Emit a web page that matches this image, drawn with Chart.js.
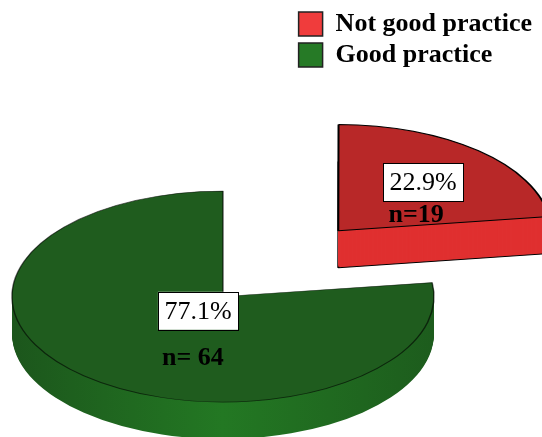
<!DOCTYPE html>
<html><head><meta charset="utf-8">
<script src="https://cdn.jsdelivr.net/npm/chart.js@4"></script>
<style>html,body{margin:0;padding:0;background:#fff;overflow:hidden}canvas{display:block}</style>
</head><body>
<canvas id="c" width="542" height="437"></canvas>
<script>
// ---- data ----
const categories = ['Not good practice', 'Good practice'];
const counts = [19, 64];
const countPrefixes = ['n=', 'n= '];

// ---- styles ----
const topColors = ['#b82828', '#1f5c1e'];
const sideColors = ['#e03030', null];          // null -> green gradient
const legendColors = ['#f03c3c', '#267a26'];
const borderColors = ['#000000', 'rgba(0,0,0,0.6)'];
const borderWidths = [2, 1.5];
const bottomBorderWidths = [2, 0];

const PIE = {cx: 223, cy: 296.5, r: 211, tilt: 0.5, depth: 37, explode: [175, 0]};
const LABEL = {pctFrac: [0.61, 0.18], nShift: [[-7, 33], [-5, 47]]};
const FONT = '"Liberation Serif", "Times New Roman", serif';

function mapCtx(ctx, el, dy) {
  ctx.translate(PIE.cx, PIE.cy + dy);
  ctx.scale(1, PIE.tilt);
  ctx.translate(-el.x, -el.y);
}

const pie3d = {
  id: 'pie3d',
  beforeDatasetDraw(chart, args) {
    const ctx = chart.ctx;
    const els = args.meta.data;
    const el0 = els[0];
    const grad = ctx.createLinearGradient(el0.x - PIE.r, 0, el0.x + PIE.r, 0);
    grad.addColorStop(0, '#1c561c');
    grad.addColorStop(0.5, '#237823');
    grad.addColorStop(1, '#1d5c1d');
    for (let d = PIE.depth; d >= 1; d--) {
      els.forEach((el, i) => {
        const clone = Object.create(el);
        clone.options = Object.assign({}, el.options, {
          backgroundColor: sideColors[i] || grad,
          borderWidth: d === PIE.depth ? bottomBorderWidths[i] : 0,
          borderColor: borderColors[i]
        });
        ctx.save();
        mapCtx(ctx, el, d);
        clone.draw(ctx);
        ctx.restore();
      });
    }
    ctx.save();
    mapCtx(ctx, el0, 0);
  },
  afterDatasetDraw(chart) {
    chart.ctx.restore();
  },
  afterDatasetsDraw(chart) {
    const ctx = chart.ctx;
    const els = chart.getDatasetMeta(0).data;
    const total = counts.reduce((a, b) => a + b, 0);
    ctx.save();
    els.forEach((el, i) => {
      const h = (el.startAngle + el.endAngle) / 2;
      const rr = PIE.explode[i] + LABEL.pctFrac[i] * PIE.r;
      const x = PIE.cx + Math.cos(h) * rr;
      const y = PIE.cy + Math.sin(h) * rr * PIE.tilt;
      const pct = (counts[i] / total * 100).toFixed(1) + '%';
      ctx.font = '26px ' + FONT;
      const w = ctx.measureText(pct).width + 13, hh = 38;
      ctx.fillStyle = '#fff';
      ctx.fillRect(x - w / 2, y - hh / 2, w, hh);
      ctx.strokeStyle = '#000';
      ctx.lineWidth = 1;
      ctx.strokeRect(Math.round(x - w / 2) + 0.5, Math.round(y - hh / 2) + 0.5, Math.round(w), hh);
      ctx.fillStyle = '#000';
      ctx.textAlign = 'center';
      ctx.textBaseline = 'middle';
      ctx.fillText(pct, x, y + 1);
      ctx.font = 'bold 26px ' + FONT;
      ctx.fillText(countPrefixes[i] + counts[i], x + LABEL.nShift[i][0], y + LABEL.nShift[i][1]);
    });
    ctx.restore();
  }
};

new Chart(document.getElementById('c'), {
  type: 'pie',
  data: {
    labels: categories,
    datasets: [{
      data: counts,
      radius: PIE.r,
      cutout: '0%',
      backgroundColor: topColors,
      borderColor: borderColors,
      borderWidth: borderWidths,
      offset: PIE.explode.map(e => e * 4),
      hoverOffset: 0
    }]
  },
  options: {
    responsive: false,
    devicePixelRatio: 1,
    animation: false,
    events: [],
    layout: {padding: {top: 6}},
    plugins: {
      tooltip: {enabled: false},
      legend: {
        position: 'right',
        align: 'start',
        labels: {
          boxWidth: 24,
          boxHeight: 24,
          padding: 5,
          color: '#000',
          font: {family: FONT, size: 26, weight: 'bold'},
          generateLabels(chart) {
            const items = Chart.overrides.pie.plugins.legend.labels.generateLabels(chart);
            items.forEach((it, i) => {
              it.fillStyle = legendColors[i];
              it.strokeStyle = '#222';
              it.lineWidth = 1.5;
            });
            return items;
          }
        }
      }
    }
  },
  plugins: [pie3d]
});
</script>
</body></html>
